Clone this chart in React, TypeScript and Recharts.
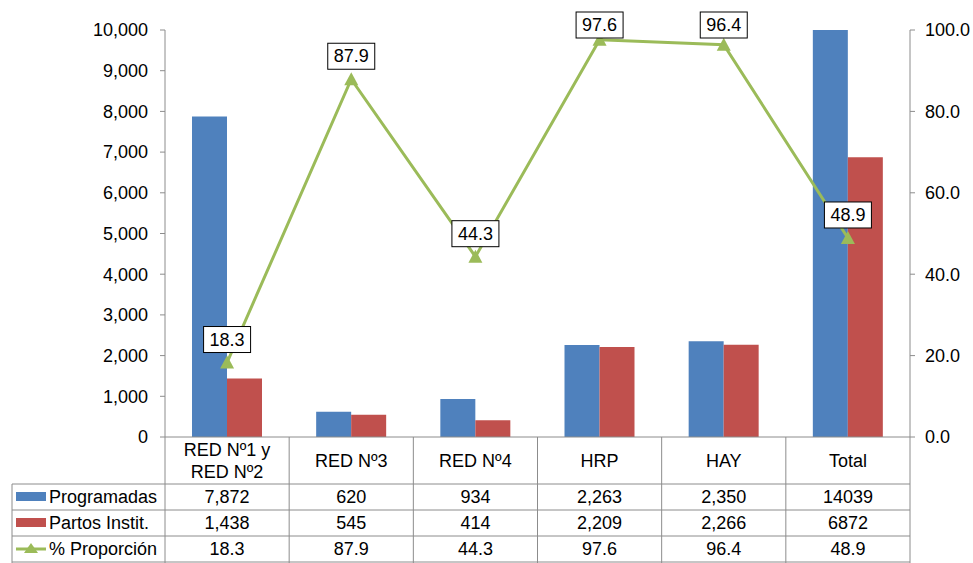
import React from 'react';
import {
    ComposedChart, Bar, Line, XAxis, YAxis, LabelList
} from 'recharts';

const categories = ['RED Nº1 y\nRED Nº2', 'RED Nº3', 'RED Nº4', 'HRP', 'HAY', 'Total'];
const programadas = [7872, 620, 934, 2263, 2350, 14039];
const partos = [1438, 545, 414, 2209, 2266, 6872];
const proporcion = [18.3, 87.9, 44.3, 97.6, 96.4, 48.9];
const programadasText = ['7,872', '620', '934', '2,263', '2,350', '14039'];
const partosText = ['1,438', '545', '414', '2,209', '2,266', '6872'];
const proporcionText = ['18.3', '87.9', '44.3', '97.6', '96.4', '48.9'];
const leftTicks = [0, 1000, 2000, 3000, 4000, 5000, 6000, 7000, 8000, 9000, 10000];
const rightTicks = [0, 20, 40, 60, 80, 100];

const BLUE = '#4F81BD';
const RED = '#C0504D';
const GREEN = '#9BBB59';
const GRID = '#8C8C8C';
const FONT = '"Liberation Sans", Arial, sans-serif';
const FS = 18;

const W = 973;
const H = 563;
const LEFT_W = 165;
const RIGHT_W = 63;
const TOP = 30;
const AXIS_H = 126;
const COL_W = (W - LEFT_W - RIGHT_W) / categories.length;
const AXIS_Y = H - AXIS_H;
const ROW_H = 26;
const HEADER_BOTTOM = AXIS_Y + 47;

const data = categories.map((name, i) => ({
    name,
    programadas: programadas[i],
    partos: partos[i],
    proporcion: proporcion[i],
}));

const rows = [programadasText, partosText, proporcionText];

const TableColumn = (props: any) => {
    const { x, index } = props;
    const left = x - COL_W / 2;
    const lines = String(categories[index]).split('\n');
    const headerMid = (AXIS_Y + HEADER_BOTTOM) / 2;
    return (
        <g fontFamily={FONT} fontSize={FS} fill="#000">
            <line x1={left} y1={AXIS_Y} x2={left} y2={H} stroke={GRID} />
            {index === categories.length - 1 && (
                <line x1={left + COL_W} y1={AXIS_Y} x2={left + COL_W} y2={H} stroke={GRID} />
            )}
            {lines.map((ln, k) => (
                <text
                    key={k}
                    x={x}
                    y={headerMid + (k - (lines.length - 1) / 2) * 22}
                    textAnchor="middle"
                    dominantBaseline="central"
                >
                    {ln}
                </text>
            ))}
            {rows.map((r, k) => (
                <text
                    key={k}
                    x={x}
                    y={HEADER_BOTTOM + ROW_H * k + ROW_H / 2}
                    textAnchor="middle"
                    dominantBaseline="central"
                >
                    {r[index]}
                </text>
            ))}
            {index === 0 && <TableLegend />}
        </g>
    );
};

const TableLegend = () => {
    const x0 = 12;
    const names = ['Programadas', 'Partos Instit.', '% Proporción'];
    return (
        <g>
            <line x1={x0} y1={HEADER_BOTTOM} x2={LEFT_W} y2={HEADER_BOTTOM} stroke={GRID} />
            {[0, 1, 2, 3].map(k => (
                <line
                    key={k}
                    x1={k === 0 ? LEFT_W : x0}
                    y1={HEADER_BOTTOM + ROW_H * k}
                    x2={W - RIGHT_W}
                    y2={HEADER_BOTTOM + ROW_H * k}
                    stroke={GRID}
                />
            ))}
            <line x1={x0} y1={HEADER_BOTTOM} x2={x0} y2={H} stroke={GRID} />
            {names.map((n, k) => {
                const cy = HEADER_BOTTOM + ROW_H * k + ROW_H / 2;
                return (
                    <g key={n}>
                        {k < 2 ? (
                            <rect x={16} y={cy - 5} width={30} height={9} fill={k === 0 ? BLUE : RED} />
                        ) : (
                            <g>
                                <line x1={16} y1={cy} x2={46} y2={cy} stroke={GREEN} strokeWidth={3} />
                                <polygon points={`${31},${cy - 6} ${38},${cy + 4} ${24},${cy + 4}`} fill={GREEN} />
                            </g>
                        )}
                        <text x={49} y={cy} dominantBaseline="central">{n}</text>
                    </g>
                );
            })}
        </g>
    );
};

const Triangle = (props: any) => {
    const { cx, cy } = props;
    if (cx == null || cy == null) return null;
    return <polygon points={`${cx},${cy - 7} ${cx + 7},${cy + 6} ${cx - 7},${cy + 6}`} fill={GREEN} />;
};

const BoxLabel = (props: any) => {
    const { x, y, value } = props;
    const cy = Math.max(y - 23, 25);
    const w = 47;
    const h = 26;
    return (
        <g>
            <rect x={x - w / 2} y={cy - h / 2} width={w} height={h} fill="#fff" stroke="#000" strokeWidth={1} />
            <text
                x={x}
                y={cy}
                textAnchor="middle"
                dominantBaseline="central"
                fontFamily={FONT}
                fontSize={FS}
                fill="#000"
            >
                {Number(value).toFixed(1)}
            </text>
        </g>
    );
};

const tickStyle = { fontFamily: FONT, fontSize: FS, fill: '#000' };

export default function App() {
    return (
        <div style={{ position: 'absolute', left: 0, top: 0, width: W, height: H, background: '#fff' }}>
            <ComposedChart
                width={W}
                height={H}
                data={data}
                margin={{ top: TOP, right: 0, left: 0, bottom: 0 }}
                barGap={0}
                barSize={35}
            >
                <XAxis
                    dataKey="name"
                    height={AXIS_H}
                    axisLine={{ stroke: GRID }}
                    tickLine={false}
                    tickSize={0}
                    tickMargin={0}
                    interval={0}
                    tick={<TableColumn />}
                />
                <YAxis
                    yAxisId="left"
                    width={LEFT_W}
                    domain={[0, 10000]}
                    ticks={leftTicks}
                    allowDataOverflow
                    axisLine={{ stroke: GRID }}
                    tickLine={{ stroke: GRID }}
                    tickSize={5}
                    tickMargin={12}
                    tick={tickStyle}
                    tickFormatter={(v: number) => v.toLocaleString('en-US')}
                />
                <YAxis
                    yAxisId="right"
                    orientation="right"
                    width={RIGHT_W}
                    domain={[0, 100]}
                    ticks={rightTicks}
                    axisLine={{ stroke: GRID }}
                    tickLine={{ stroke: GRID }}
                    tickSize={5}
                    tickMargin={10}
                    tick={{ ...tickStyle, textAnchor: 'start' }}
                    tickFormatter={(v: number) => v.toFixed(1)}
                />
                <Bar yAxisId="left" dataKey="programadas" fill={BLUE} isAnimationActive={false} />
                <Bar yAxisId="left" dataKey="partos" fill={RED} isAnimationActive={false} />
                <Line
                    yAxisId="right"
                    dataKey="proporcion"
                    stroke={GREEN}
                    strokeWidth={3}
                    dot={<Triangle />}
                    activeDot={false}
                    isAnimationActive={false}
                >
                    <LabelList dataKey="proporcion" content={<BoxLabel />} />
                </Line>
            </ComposedChart>
        </div>
    );
}
